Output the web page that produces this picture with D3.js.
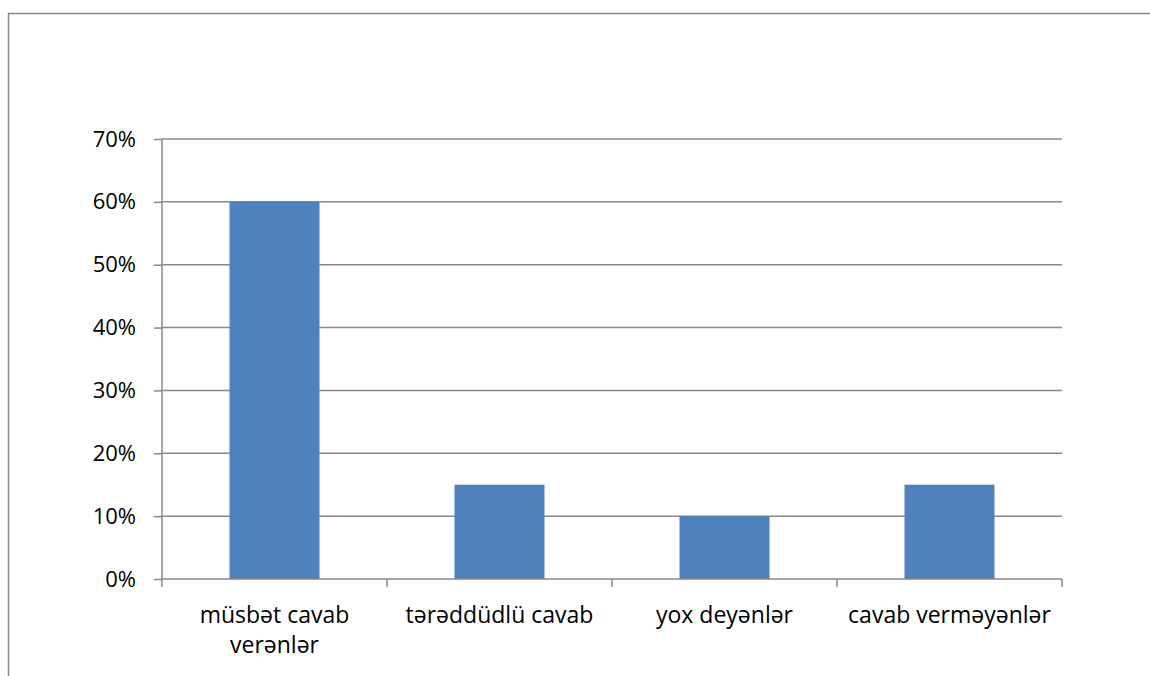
<!DOCTYPE html>
<html>
<head>
<meta charset="utf-8">
<script src="https://cdnjs.cloudflare.com/ajax/libs/d3/7.8.5/d3.min.js"></script>
<style>
    body { margin: 0; background: #fff; }
    svg text { font-family: "Open Sans", sans-serif; fill: #000; }
</style>
</head>
<body>
<div id="chart"></div>
<script>

// chart data
var categories = ["müsbət cavab verənlər", "tərəddüdlü cavab", "yox deyənlər", "cavab verməyənlər"];
var values = [0.60, 0.15, 0.10, 0.15];
var yTicks = [0, 0.1, 0.2, 0.3, 0.4, 0.5, 0.6, 0.7];

var width = 1150, height = 676;
var margin = {left: 162, right: 88, top: 139, bottom: 97};

var svg = d3.select("#chart").append("svg")
    .attr("width", width)
    .attr("height", height);

// outer frame (runs off the right and bottom edges)
svg.append("rect")
    .attr("x", 8.5)
    .attr("y", 13.5)
    .attr("width", 1200)
    .attr("height", 700)
    .attr("fill", "none")
    .attr("stroke", "#898989")
    .attr("stroke-width", 1.5);

var x = d3.scaleBand()
    .domain(categories)
    .range([margin.left, width - margin.right])
    .paddingInner(0.6)
    .paddingOuter(0.3);

var xEdges = d3.scaleBand()
    .domain(categories)
    .range([margin.left, width - margin.right]);

var y = d3.scaleLinear()
    .domain([0, 0.7])
    .range([height - margin.bottom, margin.top]);

// gridlines
svg.append("g")
    .selectAll("line")
    .data(yTicks.slice(1))
    .enter().append("line")
    .attr("x1", margin.left)
    .attr("x2", width - margin.right)
    .attr("y1", function (d) { return y(d); })
    .attr("y2", function (d) { return y(d); })
    .attr("stroke", "#888")
    .attr("stroke-width", 1.5);

// bars
svg.append("g")
    .selectAll("rect")
    .data(values)
    .enter().append("rect")
    .attr("x", function (d, i) { return x(categories[i]); })
    .attr("width", x.bandwidth())
    .attr("y", function (d) { return y(d); })
    .attr("height", function (d) { return y(0) - y(d); })
    .attr("fill", "#4F81BD");

// y axis
var yAxis = svg.append("g")
    .attr("transform", "translate(" + margin.left + ",0)")
    .call(d3.axisLeft(y).tickValues(yTicks).tickFormat(d3.format(".0%")).tickSize(8).tickPadding(18));
yAxis.selectAll("line, path").attr("stroke", "#888").attr("stroke-width", 1.5);
yAxis.select(".domain").attr("d", "M0," + y(0.7) + "V" + y(0));
yAxis.selectAll("text").style("font-size", "22px").style("font-family", "'Open Sans', sans-serif");

// x axis with boundary ticks
var xAxis = svg.append("g")
    .attr("transform", "translate(0," + y(0) + ")");
xAxis.append("line")
    .attr("x1", margin.left).attr("x2", width - margin.right)
    .attr("stroke", "#888").attr("stroke-width", 1.5);
var edges = categories.map(function (c) { return xEdges(c); }).concat([width - margin.right]);
xAxis.selectAll(".edge")
    .data(edges)
    .enter().append("line")
    .attr("class", "edge")
    .attr("x1", function (d) { return d; })
    .attr("x2", function (d) { return d; })
    .attr("y1", 0).attr("y2", 8)
    .attr("stroke", "#888").attr("stroke-width", 1.5);

// category labels, wrapped to band width
var labels = xAxis.selectAll(".cat")
    .data(categories)
    .enter().append("text")
    .attr("class", "cat")
    .attr("text-anchor", "middle")
    .style("font-size", "23px")
    .attr("x", function (d) { return xEdges(d) + xEdges.bandwidth() / 2; })
    .attr("y", 44);

labels.each(function (d) {
    var t = d3.select(this);
    var words = d.split(" ");
    var line = [];
    var tspan = t.append("tspan").attr("x", t.attr("x")).attr("dy", 0);
    words.forEach(function (w) {
        line.push(w);
        tspan.text(line.join(" "));
        if (tspan.node().getComputedTextLength() > xEdges.bandwidth() - 10 && line.length > 1) {
            line.pop();
            tspan.text(line.join(" "));
            line = [w];
            tspan = t.append("tspan").attr("x", t.attr("x")).attr("dy", 30).text(w);
        }
    });
});

</script>
</body>
</html>
